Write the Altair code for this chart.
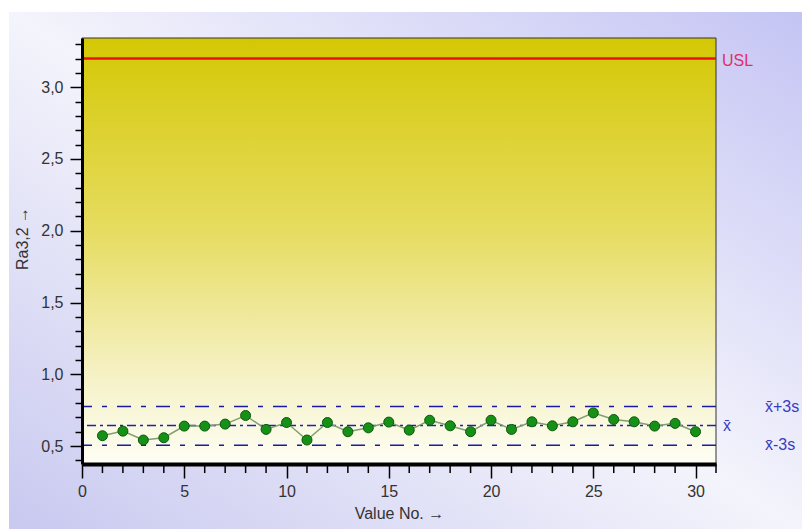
import altair as alt
import pandas as pd

# ---- data ----
value_no = list(range(1, 31))
ra_values = [0.572, 0.604, 0.542, 0.558, 0.639, 0.639, 0.653, 0.713, 0.616, 0.664,
             0.542, 0.664, 0.600, 0.627, 0.667, 0.611, 0.680, 0.641, 0.600, 0.680,
             0.616, 0.669, 0.641, 0.669, 0.731, 0.685, 0.669, 0.639, 0.658, 0.600]
usl_value = 3.2
ctrl_names = ["x\u0304+3s", "x\u0304", "x\u0304-3s"]
ctrl_values = [0.775, 0.643, 0.505]
x_major_ticks = [0, 5, 10, 15, 20, 25, 30]
x_minor_ticks = [i for i in range(0, 32) if i % 5 != 0]
y_ticks = [round(0.4 + 0.1 * i, 1) for i in range(30)]
x_domain = [0, 31]
y_domain = [0.375, 3.343]

W, H = 634, 426
FONT = "Liberation Sans"
FS = 16

df = pd.DataFrame({"n": value_no, "ra": ra_values})
frame = pd.DataFrame({"x0": [x_domain[0]], "x1": [x_domain[1]],
                      "y0": [y_domain[0]], "y1": [y_domain[1]]})
usl_df = pd.DataFrame({"name": ["USL"], "v": [usl_value]})
ctrl_df = pd.DataFrame({"name": ctrl_names, "v": ctrl_values})
mean_df = ctrl_df[ctrl_df["name"] == "x\u0304"]
band_df = ctrl_df[ctrl_df["name"] != "x\u0304"]
xmin_df = pd.DataFrame({"t": x_minor_ticks})

xs = alt.Scale(domain=x_domain, nice=False, zero=False)
ys = alt.Scale(domain=y_domain, nice=False, zero=False)

half_test = "abs(datum.value*2 - round(datum.value*2)) < 0.01"

x_axis = alt.Axis(
    values=x_major_ticks, zindex=1, grid=False,
    ticks=True, tickSize=14, tickColor="#000000", tickWidth=1.5,
    labelExpr="format(datum.value, 'd')",
    labelFont=FONT, labelFontSize=FS, labelColor="#333333", labelPadding=5,
    labelOverlap=False, labelFlush=False,
    domainColor="#000000", domainWidth=4,
    title="Value No. \u2192", titleFont=FONT, titleFontSize=FS,
    titleFontWeight="normal", titleColor="#333333", titlePadding=6,
)
y_axis = alt.Axis(
    values=y_ticks, tickCount=200, zindex=1, grid=False,
    tickSize={"condition": {"test": half_test, "value": 12}, "value": 7},
    tickColor="#000000", tickWidth=1.5,
    labelExpr="(" + half_test + ") ? replace(format(datum.value, '.1f'), '.', ',') : ''",
    labelFont=FONT, labelFontSize=FS, labelColor="#333333", labelPadding=7,
    labelFlush=False, labelOverlap=False,
    domainColor="#000000", domainWidth=3,
    title="Ra3,2 \u2192", titleFont=FONT, titleFontSize=FS,
    titleFontWeight="normal", titleColor="#333333",
    titleX=-60, titleY=200, titleBaseline="middle", titleAlign="center", titleAngle=270,
)

outer_grad = alt.Gradient(
    gradient="linear", x1=0, y1=1, x2=1, y2=0,
    stops=[alt.GradientStop(offset=0, color="#c8c8f0"),
           alt.GradientStop(offset=0.5, color="#f4f4fc"),
           alt.GradientStop(offset=1, color="#c4c4f4")])
plot_grad = alt.Gradient(
    gradient="linear", x1=0, y1=0, x2=0, y2=1,
    stops=[alt.GradientStop(offset=0, color="#d4c804"),
           alt.GradientStop(offset=0.45, color="#e6dc60"),
           alt.GradientStop(offset=0.8, color="#f6f2c8"),
           alt.GradientStop(offset=1, color="#fefef4")])

outer = alt.Chart(frame).mark_rect(color=outer_grad).encode(
    x=alt.value(-73), x2=alt.value(W + 90), y=alt.value(-26), y2=alt.value(H + 70))

plot_bg = alt.Chart(frame).mark_rect(color=plot_grad, stroke="#333333", strokeWidth=1).encode(
    x=alt.X("x0:Q", scale=xs, axis=x_axis), x2="x1",
    y=alt.Y("y0:Q", scale=ys, axis=y_axis), y2="y1")

# minor x ticks below the axis line, placed through both scales
xmin = alt.Chart(xmin_df).mark_rule(color="#000000", strokeWidth=1.5, clip=False).encode(
    x=alt.X("t:Q", scale=xs), y=alt.datum(0.375, scale=ys), y2=alt.datum(0.312))

usl_rule = alt.Chart(usl_df).mark_rule(color="#ee1010", strokeWidth=2.5).encode(
    y=alt.Y("v:Q", scale=ys))
usl_text = alt.Chart(usl_df).mark_text(align="left", baseline="middle", font=FONT,
                                       fontSize=FS, color="#e0306a", dy=2).encode(
    x=alt.value(W + 6), y=alt.Y("v:Q", scale=ys), text="name:N")

band_rule = alt.Chart(band_df).mark_rule(
    color="#1a1aa8", strokeWidth=1.5, strokeDash=[14, 10, 5, 10]).encode(
    y=alt.Y("v:Q", scale=ys))
mean_rule = alt.Chart(mean_df).mark_rule(
    color="#2020b0", strokeWidth=1.5, strokeDash=[9, 4, 3, 4]).encode(
    y=alt.Y("v:Q", scale=ys))

line = alt.Chart(df).mark_line(color="#7f9f6f", strokeWidth=1.5).encode(
    x=alt.X("n:Q", scale=xs), y=alt.Y("ra:Q", scale=ys))
points = alt.Chart(df).mark_circle(size=100, color="#179017", opacity=1,
                                   stroke="#0a5a0a", strokeWidth=1).encode(
    x=alt.X("n:Q", scale=xs), y=alt.Y("ra:Q", scale=ys))

band_text = alt.Chart(band_df).mark_text(
    align="left", baseline="middle", font=FONT, fontSize=FS, color="#3a3ac0").encode(
    x=alt.value(W + 49), y=alt.Y("v:Q", scale=ys), text="name:N")
mean_text = alt.Chart(mean_df).mark_text(
    align="left", baseline="middle", font=FONT, fontSize=FS, color="#3a3ac0").encode(
    x=alt.value(W + 7), y=alt.Y("v:Q", scale=ys), text="name:N")

chart = alt.layer(
    outer, plot_bg, xmin, usl_rule, band_rule, mean_rule, line, points,
    usl_text, band_text, mean_text,
).properties(
    width=W, height=H,
    autosize=alt.AutoSizeParams(type="none"),
    padding={"left": 82, "top": 38, "right": 86, "bottom": 65},
    background="#ffffff",
).configure_view(stroke=None)

chart.save("out.html", embed_options={"renderer": "svg", "actions": False})
